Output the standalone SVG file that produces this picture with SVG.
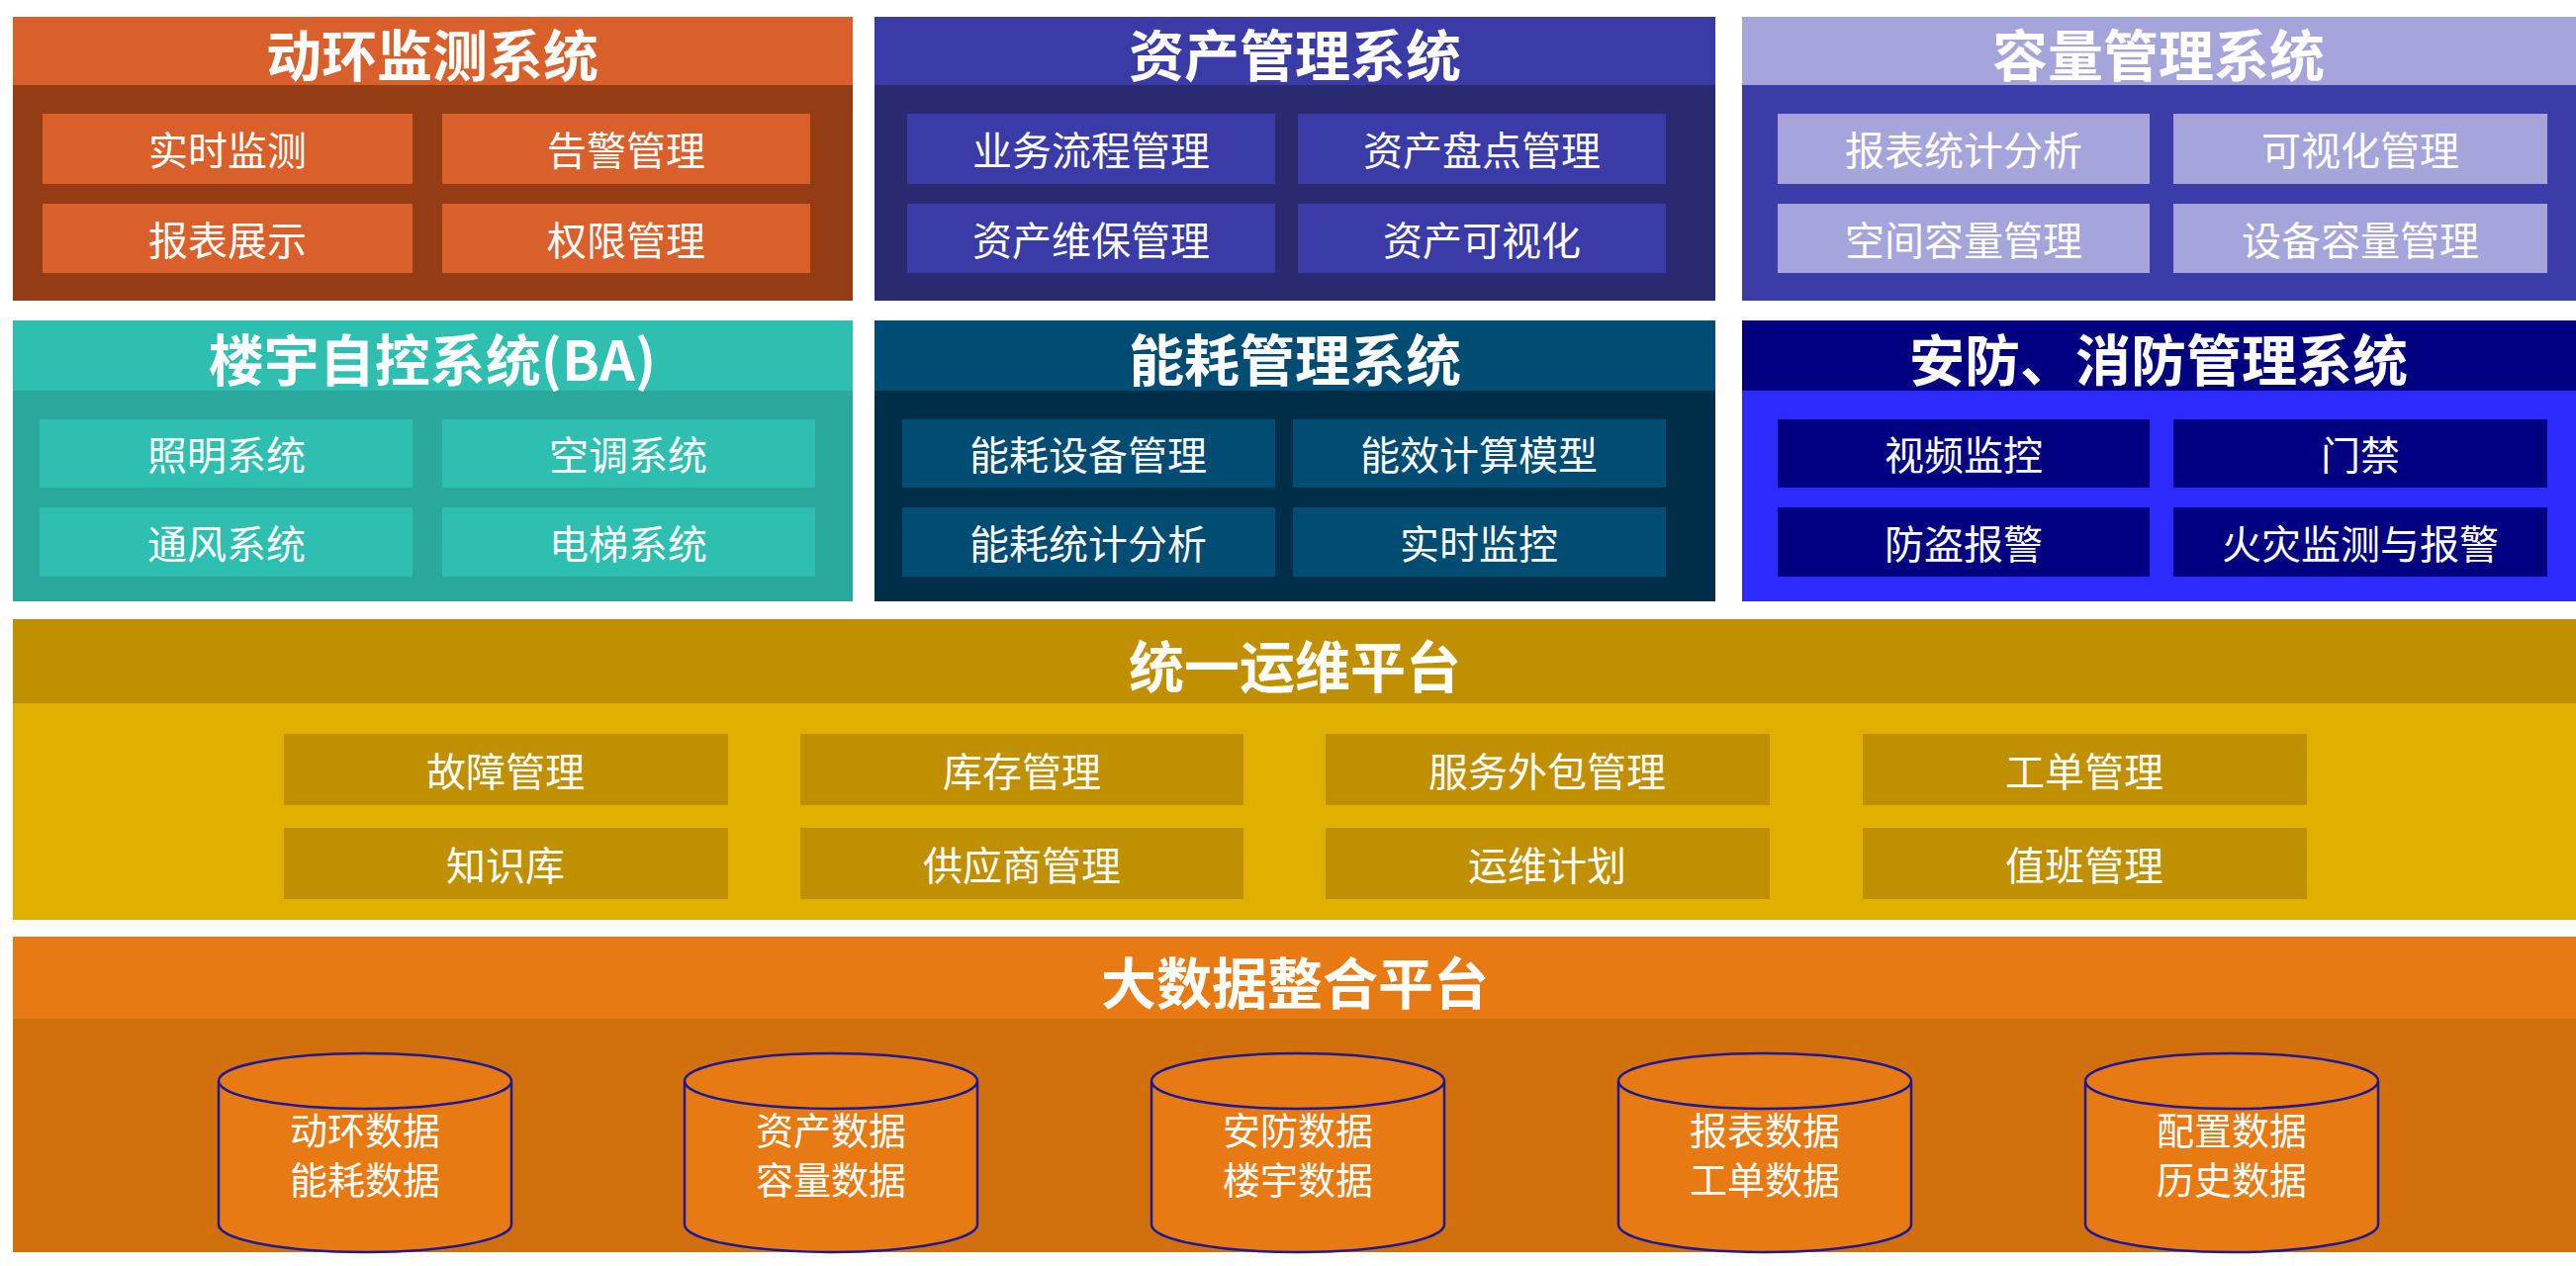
<svg xmlns="http://www.w3.org/2000/svg" width="2604" height="1280" viewBox="0 0 2604 1280">
<style>
text{font-family:"Noto Sans CJK SC","Liberation Sans",sans-serif;fill:#fff;text-anchor:middle;dominant-baseline:central}
.h{font-size:56px;font-weight:bold}
.i{font-size:40px}
.d{font-size:38px}
.c{fill:#E87A14;stroke:#1a1a9a;stroke-width:2.5}
</style>
<rect width="2604" height="1280" fill="#fff"/>
<g id="dh">
<rect x="13" y="17" width="849" height="287" fill="#943D15"/><rect x="13" y="17" width="849" height="69" fill="#D95F2B"/>
<text class="h" x="437" y="52">动环监测系统</text>
<g fill="#D95F2B"><rect x="43" y="115" width="374" height="71"/><rect x="447" y="115" width="372" height="71"/><rect x="43" y="206" width="374" height="70"/><rect x="447" y="206" width="372" height="70"/></g>
<text class="i" x="230" y="150">实时监测</text><text class="i" x="633" y="150">告警管理</text><text class="i" x="230" y="241">报表展示</text><text class="i" x="633" y="241">权限管理</text>
</g>
<g id="zc">
<rect x="884" y="17" width="850" height="287" fill="#2A2A70"/><rect x="884" y="17" width="850" height="69" fill="#3B3BA8"/>
<text class="h" x="1309" y="52">资产管理系统</text>
<g fill="#3B3BA8"><rect x="917" y="115" width="372" height="71"/><rect x="1312" y="115" width="372" height="71"/><rect x="917" y="206" width="372" height="70"/><rect x="1312" y="206" width="372" height="70"/></g>
<text class="i" x="1103" y="150">业务流程管理</text><text class="i" x="1498" y="150">资产盘点管理</text><text class="i" x="1103" y="241">资产维保管理</text><text class="i" x="1498" y="241">资产可视化</text>
</g>
<g id="rl">
<rect x="1761" y="17" width="843" height="287" fill="#3C3CA8"/><rect x="1761" y="17" width="843" height="69" fill="#A5A5DC"/>
<text class="h" x="2182" y="52">容量管理系统</text>
<g fill="#A5A5DC"><rect x="1797" y="115" width="376" height="71"/><rect x="2197" y="115" width="378" height="71"/><rect x="1797" y="206" width="376" height="70"/><rect x="2197" y="206" width="378" height="70"/></g>
<text class="i" x="1985" y="150">报表统计分析</text><text class="i" x="2386" y="150">可视化管理</text><text class="i" x="1985" y="241">空间容量管理</text><text class="i" x="2386" y="241">设备容量管理</text>
</g>
<g id="ba">
<rect x="13" y="324" width="849" height="284" fill="#2AA89C"/><rect x="13" y="324" width="849" height="71" fill="#2EBFB0"/>
<text class="h" x="437" y="360">楼宇自控系统(BA)</text>
<g fill="#2EBFB0"><rect x="40" y="424" width="377" height="69"/><rect x="447" y="424" width="377" height="69"/><rect x="40" y="513" width="377" height="70"/><rect x="447" y="513" width="377" height="70"/></g>
<text class="i" x="229" y="458">照明系统</text><text class="i" x="635" y="458">空调系统</text><text class="i" x="229" y="548">通风系统</text><text class="i" x="635" y="548">电梯系统</text>
</g>
<g id="nh">
<rect x="884" y="324" width="850" height="284" fill="#002E48"/><rect x="884" y="324" width="850" height="71" fill="#004C73"/>
<text class="h" x="1309" y="360">能耗管理系统</text>
<g fill="#004C73"><rect x="912" y="424" width="377" height="69"/><rect x="1307" y="424" width="377" height="69"/><rect x="912" y="513" width="377" height="70"/><rect x="1307" y="513" width="377" height="70"/></g>
<text class="i" x="1100" y="458">能耗设备管理</text><text class="i" x="1495" y="458">能效计算模型</text><text class="i" x="1100" y="548">能耗统计分析</text><text class="i" x="1495" y="548">实时监控</text>
</g>
<g id="af">
<rect x="1761" y="324" width="843" height="284" fill="#2B2BFF"/><rect x="1761" y="324" width="843" height="71" fill="#000080"/>
<text class="h" x="2182" y="360">安防、消防管理系统</text>
<g fill="#000080"><rect x="1797" y="424" width="376" height="69"/><rect x="2197" y="424" width="378" height="69"/><rect x="1797" y="513" width="376" height="70"/><rect x="2197" y="513" width="378" height="70"/></g>
<text class="i" x="1985" y="458">视频监控</text><text class="i" x="2386" y="458">门禁</text><text class="i" x="1985" y="548">防盗报警</text><text class="i" x="2386" y="548">火灾监测与报警</text>
</g>
<g id="yw">
<rect x="13" y="626" width="2591" height="304" fill="#E0B000"/><rect x="13" y="626" width="2591" height="85" fill="#C09000"/>
<text class="h" x="1309" y="670">统一运维平台</text>
<g fill="#C09000"><rect x="287" y="742" width="449" height="72"/><rect x="809" y="742" width="448" height="72"/><rect x="1340" y="742" width="449" height="72"/><rect x="1883" y="742" width="449" height="72"/>
<rect x="287" y="837" width="449" height="72"/><rect x="809" y="837" width="448" height="72"/><rect x="1340" y="837" width="449" height="72"/><rect x="1883" y="837" width="449" height="72"/></g>
<text class="i" x="511" y="778">故障管理</text><text class="i" x="1033" y="778">库存管理</text><text class="i" x="1564" y="778">服务外包管理</text><text class="i" x="2107" y="778">工单管理</text>
<text class="i" x="511" y="873">知识库</text><text class="i" x="1033" y="873">供应商管理</text><text class="i" x="1564" y="873">运维计划</text><text class="i" x="2107" y="873">值班管理</text>
</g>
<g id="dsj">
<rect x="13" y="947" width="2591" height="319" fill="#D2700E"/><rect x="13" y="947" width="2591" height="83" fill="#E87A14"/>
<text class="h" x="1309" y="990">大数据整合平台</text>
</g>
<g id="db1"><path class="c" d="M221,1093 v145 a148,28 0 0 0 296,0 v-145"/><ellipse class="c" cx="369" cy="1093" rx="148" ry="28"/><text class="d" x="369" y="1140">动环数据</text><text class="d" x="369" y="1190">能耗数据</text></g>
<g id="db2"><path class="c" d="M692,1093 v145 a148,28 0 0 0 296,0 v-145"/><ellipse class="c" cx="840" cy="1093" rx="148" ry="28"/><text class="d" x="840" y="1140">资产数据</text><text class="d" x="840" y="1190">容量数据</text></g>
<g id="db3"><path class="c" d="M1164,1093 v145 a148,28 0 0 0 296,0 v-145"/><ellipse class="c" cx="1312" cy="1093" rx="148" ry="28"/><text class="d" x="1312" y="1140">安防数据</text><text class="d" x="1312" y="1190">楼宇数据</text></g>
<g id="db4"><path class="c" d="M1636,1093 v145 a148,28 0 0 0 296,0 v-145"/><ellipse class="c" cx="1784" cy="1093" rx="148" ry="28"/><text class="d" x="1784" y="1140">报表数据</text><text class="d" x="1784" y="1190">工单数据</text></g>
<g id="db5"><path class="c" d="M2108,1093 v145 a148,28 0 0 0 296,0 v-145"/><ellipse class="c" cx="2256" cy="1093" rx="148" ry="28"/><text class="d" x="2256" y="1140">配置数据</text><text class="d" x="2256" y="1190">历史数据</text></g>
<g id="connectors"/>
</svg>
